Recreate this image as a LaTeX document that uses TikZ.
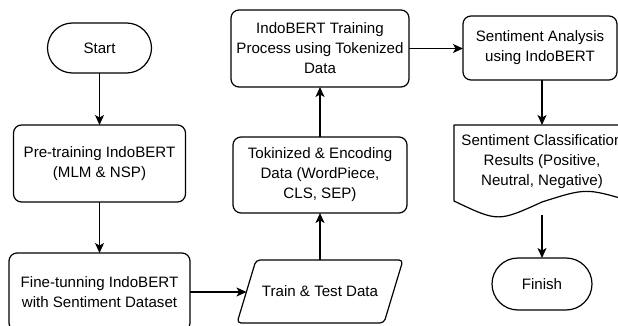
\documentclass[tikz,border=0pt]{standalone}
\usepackage{fontspec}
\setmainfont{Liberation Sans}
\usetikzlibrary{arrows.meta,shapes.misc,calc}
\begin{document}
\begin{tikzpicture}[x=1pt,y=-1pt,
  every node/.style={font=\fontsize{15.1}{20}\selectfont, align=center, inner sep=0pt, outer sep=0pt},
  procbox/.style={draw, line width=1.2pt, rounded corners=8pt, rectangle},
  termbox/.style={draw, line width=1.2pt, rounded rectangle},
  ghost/.style={draw=none, rectangle},
  flow/.style={line width=1.2pt, -{Stealth[length=10pt,width=9pt,inset=2.5pt]}},
  shapeline/.style={line width=1.2pt}
]
\useasboundingbox (0,0) rectangle (618,326);
% nodes
\node[termbox, minimum width=104pt, minimum height=50pt] (start) at (99.5,48) {Start};
\node[procbox, minimum width=172pt, minimum height=77pt] (pre) at (99.5,163.5) {Pre-training IndoBERT\\(MLM \& NSP)};
\node[procbox, minimum width=181pt, minimum height=78pt] (fine) at (99.5,292) {Fine-tunning IndoBERT\\with Sentiment Dataset};
\node[ghost, minimum width=147pt, minimum height=63pt] (train) at (320,291.5) {Train \& Test Data};
\draw[shapeline, rounded corners=4pt] ($(train.north west)+(9.5,0)$) -- ($(train.north east)+(9.5,0)$) -- ($(train.south east)+(-9.5,0)$) -- ($(train.south west)+(-9.5,0)$) -- cycle;
\node[procbox, minimum width=174pt, minimum height=76pt] (tok) at (320,175) {Tokinized \& Encoding\\Data (WordPiece,\\CLS, SEP)};
\node[procbox, minimum width=178pt, minimum height=77pt] (proc) at (320,48.5) {IndoBERT Training\\Process using Tokenized\\Data};
\node[procbox, minimum width=154pt, minimum height=64pt] (sa) at (540,48) {Sentiment Analysis\\using IndoBERT};
\node[ghost, minimum width=176pt, minimum height=90pt] (doc) at (542,170) {};
\node (doctext) at (542,162) {Sentiment Classification\\Results (Positive,\\Neutral, Negative)};
\draw[shapeline, line join=round] (doc.west |- 0,201) -- (doc.north west) -- (doc.north east) -- (doc.east |- 0,201)
  .. controls (586,188) .. (542,202) .. controls (498,222) .. (doc.west |- 0,201);
\node[termbox, minimum width=100pt, minimum height=52pt] (finish) at (542,284) {Finish};
% connectors
\draw[flow] (start.south) -- (pre.north);
\draw[flow] (pre.south) -- (fine.north);
\draw[flow] (fine.east) -- (fine.east -| train.west);
\draw[flow] (train.north) -- (tok.south);
\draw[flow] (tok.north) -- (proc.south);
\draw[flow] (proc.east) -- (proc.east -| sa.west);
\draw[flow] (sa.south -| doc.north) -- (doc.north);
\draw[flow] (doc.south) -- (finish.north);
\end{tikzpicture}
\end{document}
